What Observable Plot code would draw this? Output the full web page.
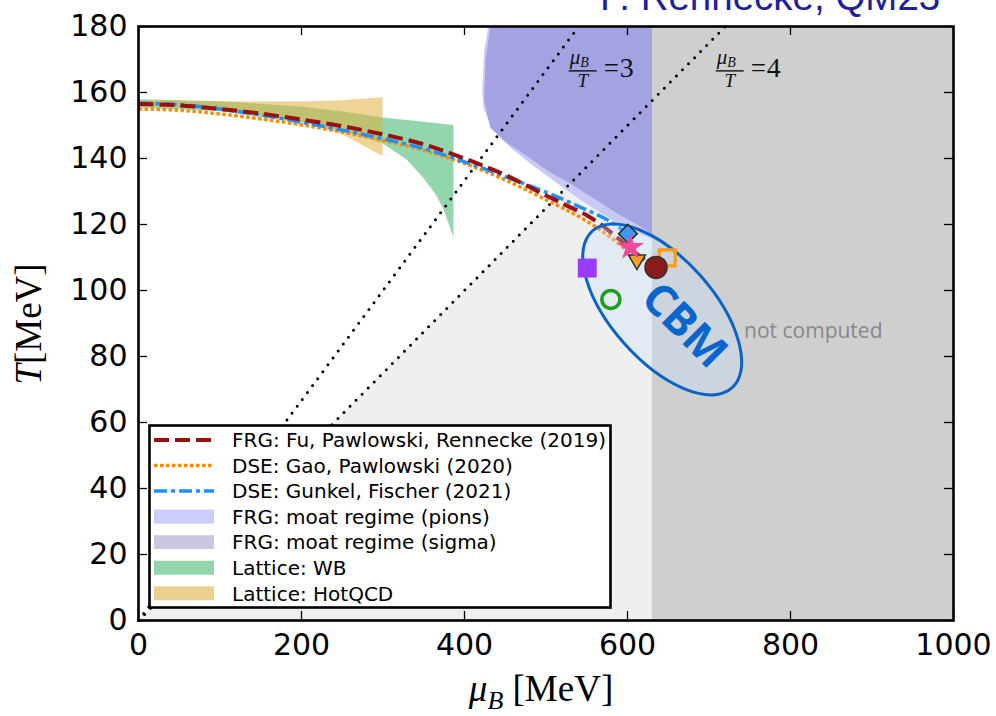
<!DOCTYPE html>
<html>
<head>
<meta charset="utf-8">
<script src="https://cdn.jsdelivr.net/npm/d3@7"></script>
<script src="https://cdn.jsdelivr.net/npm/@observablehq/plot@0.6"></script>
<style>
  html, body { margin: 0; padding: 0; background: #fff; }
  #wrap { position: relative; width: 996px; height: 716px; overflow: hidden; }
</style>
</head>
<body>
<div id="wrap"></div>
<script>
// ---------- data ----------
const xTicks = [0, 200, 400, 600, 800, 1000];
const yTicks = [0, 20, 40, 60, 80, 100, 120, 140, 160, 180];

// crossover lines
const frgMu = [0, 50, 100, 150, 200, 250, 300, 350, 400, 450, 500, 530, 550, 570, 590, 612, 634];
const frgT  = [156.5, 156.1, 155.0, 153.6, 151.8, 149.8, 147.3, 144.3, 140.0, 135.0, 128.8, 125.2, 122.8, 119.5, 115.5, 111.0, 107.0];

const gaoMu = [0, 50, 100, 150, 200, 250, 300, 350, 400, 450, 500, 550, 580, 611];
const gaoT  = [155.0, 154.6, 153.5, 152.0, 150.2, 148.0, 145.5, 142.5, 138.5, 133.5, 127.5, 121.0, 116.0, 109.5];

const gfMu = [0, 50, 100, 150, 200, 250, 300, 350, 400, 450, 500, 540, 580, 600.5];
const gfT  = [156.8, 156.3, 155.0, 153.2, 151.0, 148.6, 146.0, 143.0, 139.0, 134.5, 129.8, 125.5, 120.7, 117.2];

// lattice bands
const wbMu   = [0, 100, 200, 250, 300, 330, 350, 365, 375, 387];
const wbLow  = [155.3, 154.2, 150.8, 148.3, 144.5, 139.5, 134.0, 129.0, 124.5, 116.0];
const wbHigh = [157.8, 157.2, 155.6, 154.2, 152.3, 151.5, 151.0, 150.6, 150.3, 150.0];

const hotMu   = [0, 50, 100, 150, 200, 250, 300];
const hotLow  = [155.6, 155.3, 154.6, 153.2, 151.0, 147.3, 140.6];
const hotHigh = [157.6, 157.4, 157.2, 157.1, 157.1, 157.5, 158.4];

// moat regimes (closed outlines)
const pionMu = [630, 429.2, 424.3, 421.8, 423.1, 429.2, 440.2, 456.2, 480.7, 508.9, 538.3, 562.8, 582.5, 599.6, 615.6, 630];
const pionT  = [180, 180, 172.7, 160.6, 155.5, 151.5, 147.6, 143.3, 138.5, 133.3, 128.2, 124.2, 121.2, 118.8, 117.0, 115.6];

const sigmaMu = [630, 431.6, 426.0, 424.0, 431.6, 447.6, 472.1, 501.5, 529.7, 562.8, 587.4, 611.9, 630];
const sigmaT  = [180, 180, 170.0, 158.0, 149.4, 145.5, 141.5, 136.4, 132.4, 127.3, 123.3, 120.0, 117.2];

// mu_B/T = 3 and 4 lines
const ratio3Mu = [0, 540], ratio3T = [0, 180];
const ratio4Mu = [0, 720], ratio4T = [0, 180];

// shaded zones
const zoneMu = [0, 630], zoneT = [0, 157.5];          // below mu_B/T = 4 up to 630 MeV
const notComputedMu = [630, 1000], notComputedT = [0, 180];

// critical end points / freeze-out markers
const cepNames = ["diamond", "triangle", "circle", "openSquare", "filledSquare", "openCircle", "star"];
const cepMu = [600.5, 611.6, 635.0, 648.7, 550.6, 579.6, 603.6];
const cepT  = [117.2, 109.3, 107.0, 109.9, 106.8, 97.3, 113.1];

// texts
const cbmText = ["CBM"], cbmMu = [669.5], cbmT = [89.4];
const ncText = ["not computed"], ncMu = [743], ncT = [87.5];
const ratioText = ["3", "4"], ratioLabelMu = [528.5, 708.8], ratioLabelT = [166.4, 166.4];
const ellipseMu = 643.2, ellipseT = 94.1;

const legendLabels = [
  "FRG: Fu, Pawlowski, Rennecke (2019)",
  "DSE: Gao, Pawlowski (2020)",
  "DSE: Gunkel, Fischer (2021)",
  "FRG: moat regime (pions)",
  "FRG: moat regime (sigma)",
  "Lattice: WB",
  "Lattice: HotQCD"
];

// ---------- tables ----------
const pts = (mu, T) => mu.map((m, i) => ({mu: m, T: T[i]}));
const band = (mu, lo, hi) => mu.map((m, i) => ({mu: m, lo: lo[i], hi: hi[i]}));
const frg = pts(frgMu, frgT), gao = pts(gaoMu, gaoT), gf = pts(gfMu, gfT);
const wb = band(wbMu, wbLow, wbHigh), hot = band(hotMu, hotLow, hotHigh);
const pions = pts(pionMu, pionT), sigma = pts(sigmaMu, sigmaT);
const r3 = pts(ratio3Mu, ratio3T), r4 = pts(ratio4Mu, ratio4T);
const zone = pts(zoneMu, zoneT);
const notComputed = [{mu1: notComputedMu[0], mu2: notComputedMu[1], T1: notComputedT[0], T2: notComputedT[1]}];
const ceps = cepNames.map((n, i) => ({name: n, mu: cepMu[i], T: cepT[i]}));
const cep = n => ceps.filter(d => d.name === n);
const cbm = cbmText.map((t, i) => ({text: t, mu: cbmMu[i], T: cbmT[i]}));
const nc = ncText.map((t, i) => ({text: t, mu: ncMu[i], T: ncT[i]}));
const ratioLabels = ratioText.map((t, i) => ({text: t, mu: ratioLabelMu[i], T: ratioLabelT[i]}));

// ---------- styles ----------
const W = 996, H = 716, mL = 138, mR = 43, mT = 26, mB = 96;
const plotW = W - mL - mR, plotH = H - mT - mB, tickLen = 9;
const RED = "#9b0f0f", ORANGE = "#ff8c00", BLUE = "#1e90ff";
const serif = "'Liberation Serif', 'DejaVu Serif', serif";

const legendStyle = [
  {kind: "line", color: RED, dash: "15,6", width: 4},
  {kind: "line", color: ORANGE, dash: "3.5,2.5", width: 3.5},
  {kind: "line", color: BLUE, dash: "13,4,4,4", width: 3.5},
  {kind: "patch", color: "#ccccff"},
  {kind: "patch", color: "#c8c8e0"},
  {kind: "patch", color: "#93d6ac"},
  {kind: "patch", color: "#ecd08f"}
];

// CBM ellipse (screen-space shape around a data-space centre)
function ellipseMark(index, {x, y}) {
  const cx = x(ellipseMu), cy = y(ellipseT);
  const g = d3.create("svg:g");
  g.append("ellipse")
    .attr("cx", cx).attr("cy", cy).attr("rx", 105).attr("ry", 51)
    .attr("transform", `rotate(48.4 ${cx} ${cy})`)
    .attr("fill", "rgba(200,225,255,0.32)")
    .attr("stroke", "#0a64c8").attr("stroke-width", 3);
  return g.node();
}

// mu_B / T = n labels
function fractionMark(index, {x, y}) {
  const g = d3.create("svg:g").attr("font-family", serif).attr("fill", "#111").attr("text-anchor", "start");
  for (const d of ratioLabels) {
    const h = g.append("g").attr("transform", `translate(${x(d.mu)},${y(d.T)})`);
    h.append("line").attr("x1", 0).attr("x2", 28).attr("y1", 0).attr("y2", 0)
      .attr("stroke", "#111").attr("stroke-width", 1.4);
    const num = h.append("text").attr("x", 1).attr("y", -7).attr("font-size", 21).attr("font-style", "italic");
    num.append("tspan").text("μ");
    num.append("tspan").attr("font-size", 14).attr("dy", 3).text("B");
    h.append("text").attr("x", 14).attr("y", 16).attr("font-size", 19)
      .attr("font-style", "italic").attr("text-anchor", "middle").text("T");
    h.append("text").attr("x", 35).attr("y", 6).attr("font-size", 27).text("=");
    h.append("text").attr("x", 51).attr("y", 6).attr("font-size", 28).text(d.text);
  }
  return g.node();
}

// legend, axis titles, header
function decorMark() {
  const g = d3.create("svg:g").attr("text-anchor", "start");
  // header (cut at top of the page)
  g.append("text").attr("x", 600).attr("y", 10)
    .attr("font-family", "'Liberation Sans', Arial, sans-serif").attr("font-size", 38.5)
    .attr("fill", "#1e1ea0").text("F. Rennecke, QM23");
  // y title
  const yt = g.append("text").attr("transform", "translate(41,324) rotate(-90)")
    .attr("text-anchor", "middle").attr("font-family", serif).attr("font-size", 37).attr("fill", "#000");
  yt.append("tspan").attr("font-style", "italic").text("T");
  yt.append("tspan").text("[MeV]");
  // x title
  const xt = g.append("text").attr("x", 541).attr("y", 701)
    .attr("text-anchor", "middle").attr("font-family", serif).attr("font-size", 37).attr("fill", "#000");
  xt.append("tspan").attr("font-style", "italic").text("μ");
  xt.append("tspan").attr("font-style", "italic").attr("font-size", 26).attr("dy", 8).text("B");
  xt.append("tspan").attr("dy", -8).text(" [MeV]");
  // legend
  const lg = g.append("g");
  lg.append("rect").attr("x", 149.5).attr("y", 425.5).attr("width", 461).attr("height", 182)
    .attr("fill", "#fff").attr("stroke", "#000").attr("stroke-width", 2.6);
  legendLabels.forEach((label, i) => {
    const cy = 440 + i * 25.55, s = legendStyle[i];
    if (s.kind === "line") {
      lg.append("line").attr("x1", 154).attr("x2", 214).attr("y1", cy).attr("y2", cy)
        .attr("stroke", s.color).attr("stroke-width", s.width).attr("stroke-dasharray", s.dash);
    } else {
      lg.append("rect").attr("x", 154).attr("y", cy - 7).attr("width", 60).attr("height", 14).attr("fill", s.color);
    }
    lg.append("text").attr("x", 232).attr("y", cy + 7.2).attr("text-anchor", "start")
      .attr("font-family", "'DejaVu Sans', sans-serif").attr("font-size", 20).attr("fill", "#000").text(label);
  });
  return g.node();
}

const chart = Plot.plot({
  width: W, height: H,
  marginLeft: mL, marginRight: mR, marginTop: mT, marginBottom: mB,
  x: {domain: [0, 1000]},
  y: {domain: [0, 180]},
  style: {fontFamily: "'DejaVu Sans', sans-serif", fontSize: "20px", color: "#000", background: "#fff", overflow: "visible"},
  marks: [
    Plot.rect(notComputed, {x1: "mu1", x2: "mu2", y1: "T1", y2: "T2", fill: "#cfcfcf"}),
    Plot.areaY(zone, {x: "mu", y1: 0, y2: "T", fill: "#efefef"}),
    Plot.line(pions, {x: "mu", y: "T", fill: "#c9c9f8", stroke: "none"}),
    Plot.line(sigma, {x: "mu", y: "T", fill: "#a3a3e2", stroke: "none"}),
    Plot.areaY(wb, {x: "mu", y1: "lo", y2: "hi", fill: "#27ad59", fillOpacity: 0.5}),
    Plot.areaY(hot, {x: "mu", y1: "lo", y2: "hi", fill: "#e0b040", fillOpacity: 0.55}),
    Plot.line(r3, {x: "mu", y: "T", stroke: "#000", strokeWidth: 3, strokeDasharray: "0,8.6", strokeLinecap: "round"}),
    Plot.line(r4, {x: "mu", y: "T", stroke: "#000", strokeWidth: 3, strokeDasharray: "0,8.6", strokeLinecap: "round"}),
    Plot.line(gao, {x: "mu", y: "T", stroke: ORANGE, strokeWidth: 3.5, strokeDasharray: "3.5,2.5", strokeLinecap: "butt", curve: "monotone-x"}),
    Plot.line(gf, {x: "mu", y: "T", stroke: BLUE, strokeWidth: 3.5, strokeDasharray: "13,4,4,4", strokeLinecap: "butt", curve: "monotone-x"}),
    Plot.line(frg, {x: "mu", y: "T", stroke: RED, strokeWidth: 4, strokeDasharray: "15,6", strokeLinecap: "butt", curve: "monotone-x"}),
    ellipseMark,
    Plot.dot(cep("filledSquare"), {x: "mu", y: "T", symbol: "square", r: 10.7, fill: "#9a3cff", stroke: "none"}),
    Plot.dot(cep("openCircle"), {x: "mu", y: "T", symbol: "circle", r: 9, fill: "none", stroke: "#1f9e1f", strokeWidth: 3.5}),
    Plot.dot(cep("openSquare"), {x: "mu", y: "T", symbol: "square", r: 9, fill: "none", stroke: "#ff9a10", strokeWidth: 3.2}),
    Plot.dot(cep("triangle"), {x: "mu", y: "T", symbol: "triangle", r: 6.3, rotate: 180, fill: "#f5a020", stroke: "#333", strokeWidth: 1.5}),
    Plot.dot(cep("circle"), {x: "mu", y: "T", symbol: "circle", r: 11, fill: "#8b1c1c", stroke: "#333", strokeWidth: 1.5}),
    Plot.dot(cep("diamond"), {x: "mu", y: "T", symbol: "diamond2", r: 8.4, fill: "#3a9bf4", stroke: "#222", strokeWidth: 1.5}),
    Plot.dot(cep("star"), {x: "mu", y: "T", symbol: "star", r: 8.5, fill: "#f0489a", stroke: "none"}),
    Plot.text(cbm, {x: "mu", y: "T", text: "text", rotate: 45, fontSize: 44, fontWeight: "bold", fill: "#0a66cc", fontFamily: "'Open Sans', 'DejaVu Sans', sans-serif"}),
    Plot.text(nc, {x: "mu", y: "T", text: "text", textAnchor: "start", fontSize: 21, fill: "#888", fontFamily: "'Open Sans', sans-serif"}),
    fractionMark,
    // inward ticks on all four sides
    Plot.ruleX(xTicks, {stroke: "#000", strokeWidth: 1.3, insetTop: plotH - tickLen}),
    Plot.ruleX(xTicks, {stroke: "#000", strokeWidth: 1.3, insetBottom: plotH - tickLen}),
    Plot.ruleY(yTicks, {stroke: "#000", strokeWidth: 1.3, insetRight: plotW - tickLen}),
    Plot.ruleY(yTicks, {stroke: "#000", strokeWidth: 1.3, insetLeft: plotW - tickLen}),
    Plot.axisX({ticks: xTicks, tickSize: 0, tickPadding: 13, tickFormat: d => String(d), fontSize: 30, label: null}),
    Plot.axisY({ticks: yTicks, tickSize: 0, tickPadding: 11, tickFormat: d => String(d), fontSize: 30, label: null}),
    Plot.frame({stroke: "#000", strokeWidth: 2.6}),
    decorMark
  ]
});
document.getElementById("wrap").appendChild(chart);
</script>
</body>
</html>
